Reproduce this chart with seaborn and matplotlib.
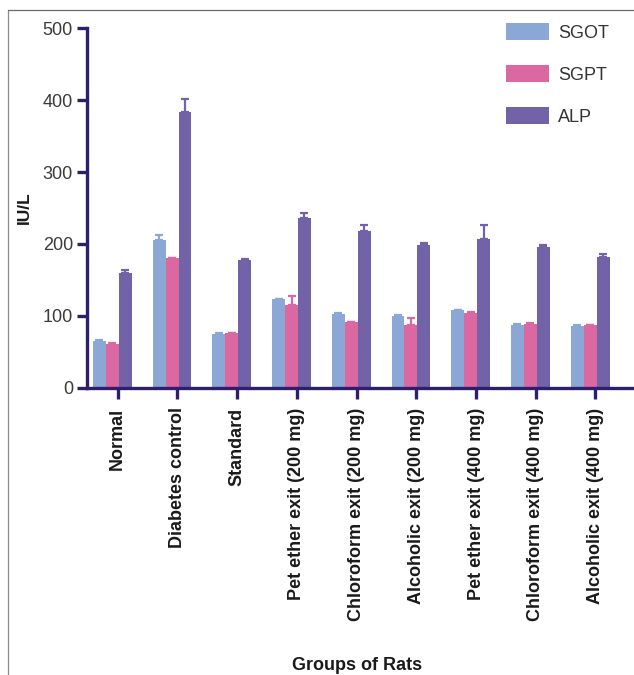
import matplotlib
matplotlib.use("Agg")
import matplotlib.pyplot as plt
from matplotlib.lines import Line2D
import seaborn as sns
import pandas as pd
import numpy as np

groups = ["Normal", "Diabetes control", "Standard", "Pet ether exit (200 mg)",
          "Chloroform exit (200 mg)", "Alcoholic exit (200 mg)",
          "Pet ether exit (400 mg)", "Chloroform exit (400 mg)",
          "Alcoholic exit (400 mg)"]
enzymes = ["SGOT", "SGPT", "ALP"]

sgot = [65, 205, 75, 123, 103, 100, 108, 88, 86]
sgpt = [61, 180, 76, 115, 91, 88, 104, 89, 87]
alp = [160, 384, 178, 236, 218, 199, 207, 196, 182]

sgot_err = [1, 7, 1, 1, 1, 1, 1, 1, 1]
sgpt_err = [1, 1, 1, 13, 1, 9, 1, 1, 1]
alp_err = [4, 17, 1, 7, 8, 2, 19, 2, 4]

colors = ["#8ba7d6", "#dc68a1", "#7263a9"]
axis_color = "#2e1f6c"

rows = []
for name, vals in zip(enzymes, [sgot, sgpt, alp]):
    for g, v in zip(groups, vals):
        rows.append({"Group": g, "Enzyme": name, "Value": v})
df = pd.DataFrame(rows)
errs = {"SGOT": sgot_err, "SGPT": sgpt_err, "ALP": alp_err}

sns.set_theme(style="white")
plt.rcParams["font.family"] = ["Liberation Sans", "DejaVu Sans"]

fig = plt.figure(figsize=(6.34, 6.75), dpi=100)
ax = fig.add_axes([0.137, 0.4252, 0.863, 0.5333])

sns.barplot(data=df, x="Group", y="Value", hue="Enzyme", order=groups,
            hue_order=enzymes, palette=colors, width=0.65, errorbar=None,
            saturation=1, linewidth=0, ax=ax)

# upper error bars, one per bar, in the bar's own colour
for cont, name, col in zip(ax.containers, enzymes, colors):
    xs = [p.get_x() + p.get_width() / 2 for p in cont.patches]
    hs = [p.get_height() for p in cont.patches]
    e = errs[name]
    ax.errorbar(xs, hs, yerr=[np.zeros(len(e)), e], fmt="none",
                ecolor=col, elinewidth=1.6, capsize=3, capthick=1.6, zorder=3)

ax.set_ylim(0, 500)
ax.set_xlim(-0.427, 8.735)
ax.set_yticks([0, 100, 200, 300, 400, 500])

for s in ["top", "right"]:
    ax.spines[s].set_visible(False)
for s in ["left", "bottom"]:
    ax.spines[s].set_color(axis_color)
    ax.spines[s].set_linewidth(2.4)

ax.tick_params(axis="y", direction="out", length=7, width=2.4,
               color=axis_color, labelsize=13, labelcolor="#3a3a3a", pad=3,
               left=True)
ax.tick_params(axis="x", direction="out", length=8, width=2.4,
               color=axis_color, pad=6, bottom=True)
# category ticks sit between the second and third bar of each group
ax.set_xticks(np.arange(len(groups)) + 0.09)
ax.set_xticklabels(groups, rotation=90, fontsize=13, fontweight="bold",
                   color="#1a1a1a", va="top", ha="center")

ax.set_ylabel("IU/L", fontsize=12.5, fontweight="bold", color="#1a1a1a",
              labelpad=8)
ax.set_xlabel("Groups of Rats", fontsize=13, fontweight="bold",
              color="#1a1a1a")
ax.xaxis.set_label_coords(0.494, -0.747)

leg = ax.legend(loc="upper left", bbox_to_anchor=(0.753, 1.034), frameon=False,
                fontsize=13, handlelength=2.4, handleheight=1.05,
                labelspacing=1.3, handletextpad=0.5, borderaxespad=0.0)
for t in leg.get_texts():
    t.set_color("#333333")

# thin outer frame on the left and top
fig.add_artist(Line2D([0.012, 0.012], [0, 0.985], color="#8a8a8a",
                      lw=0.9, transform=fig.transFigure))
fig.add_artist(Line2D([0.012, 1.0], [0.985, 0.985], color="#6a6a6a",
                      lw=0.9, transform=fig.transFigure))

fig.savefig("out.png", dpi=100)
